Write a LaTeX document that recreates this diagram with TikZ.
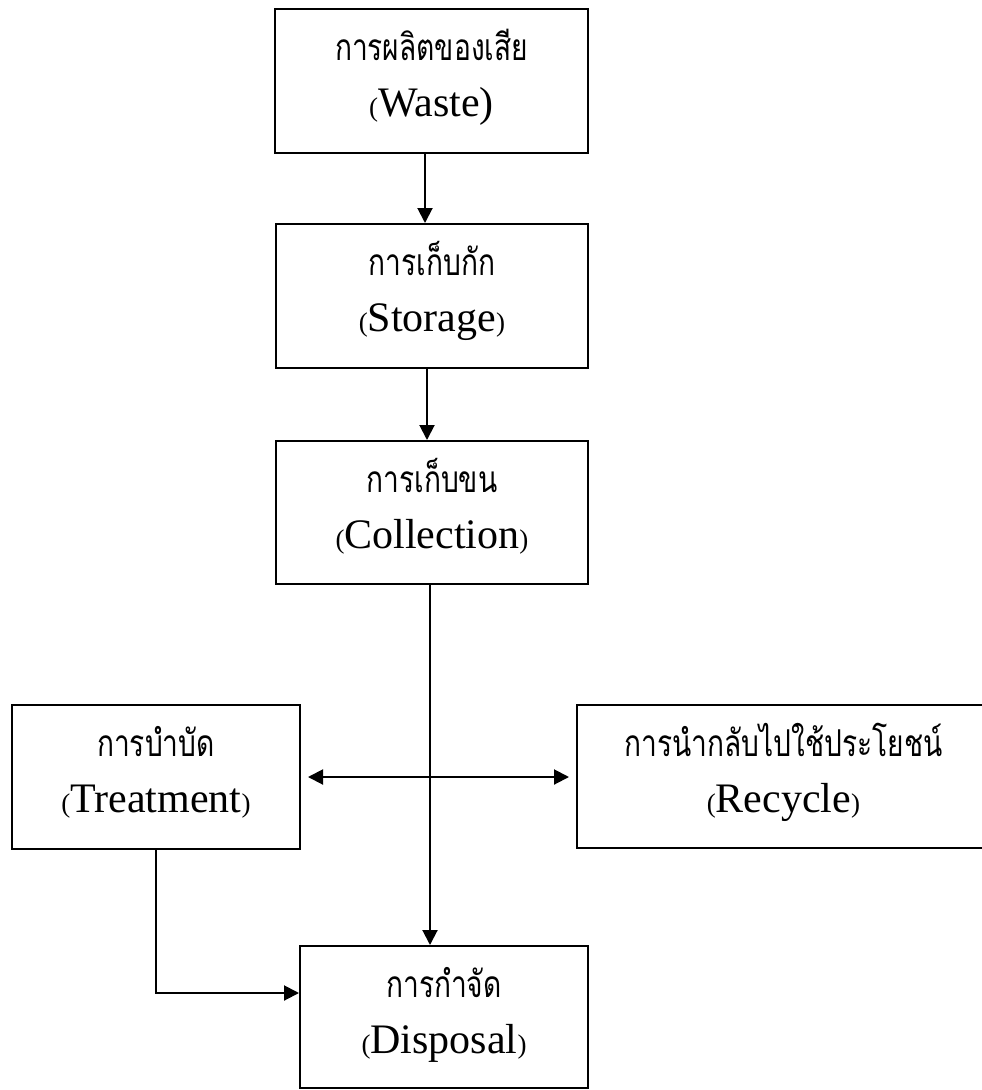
\documentclass[tikz,border=0pt]{standalone}
\usepackage{fontspec}
\setmainfont{Liberation Serif}
\newfontfamily\thaifont[Script=Thai, FakeStretch=0.76]{Loma}
\usetikzlibrary{arrows.meta}

% small parentheses used around the English names
\newcommand\lpar{{\fontsize{27pt}{27pt}\selectfont(}}
\newcommand\rpar{{\fontsize{27pt}{27pt}\selectfont)}}

% two text lines placed at fixed baselines inside a box
\newcommand\boxlabels[3]{%
  \node[thaitext, anchor=base] (#1-th) at ([yshift=-52pt]#1.north) {#2};
  \node[latintext, anchor=base] (#1-en) at ([yshift=-108pt]#1.north) {#3};}

\begin{document}
\begin{tikzpicture}[x=1pt, y=-1pt,
  stagebox/.style={draw, line width=2pt, inner sep=0pt, rectangle},
  thaitext/.style={inner sep=0pt, font=\thaifont\fontsize{37pt}{37pt}\selectfont},
  latintext/.style={inner sep=0pt, font=\fontsize{42pt}{42pt}\selectfont},
  flow/.style={line width=2pt, -{Triangle[length=15pt,width=15pt]}},
  flowboth/.style={line width=2pt, {Triangle[length=15pt,width=15pt]}-{Triangle[length=15pt,width=15pt]}}]

\useasboundingbox (0,0) rectangle (982,1090);
\clip (0,0) rectangle (982,1090);

% stage boxes
\node[stagebox, minimum width=313pt, minimum height=144pt] (waste)      at (431.5,81)   {};
\node[stagebox, minimum width=312pt, minimum height=144pt] (storage)    at (432,296)    {};
\node[stagebox, minimum width=312pt, minimum height=143pt] (collection) at (432,512.5)  {};
\node[stagebox, minimum width=288pt, minimum height=144pt] (treatment)  at (156,777)    {};
\node[stagebox, minimum width=413pt, minimum height=143pt] (recycle)    at (783.5,776.5){};
\node[stagebox, minimum width=288pt, minimum height=142pt] (disposal)   at (444,1017)   {};

% labels
\boxlabels{waste}{การผลิตของเสีย}{\lpar Waste)}
\boxlabels{storage}{การเก็บกัก}{\lpar Storage\rpar}
\boxlabels{collection}{การเก็บขน}{\lpar Collection\rpar}
\boxlabels{treatment}{การบำบัด}{\lpar Treatment\rpar}
\boxlabels{recycle}{การนำกลับไปใช้ประโยชน์}{\lpar Recycle\rpar}
\boxlabels{disposal}{การกำจัด}{\lpar Disposal\rpar}

% connectors
\draw[flow] ([xshift=-6.5pt]waste.south) -- ([xshift=-6.5pt]waste.south |- storage.north);
\draw[flow] ([xshift=-5pt]storage.south) -- ([xshift=-5pt]storage.south |- collection.north);
\draw[flow] ([xshift=-2pt]collection.south) -- ([xshift=-2pt]collection.south |- disposal.north);
\draw[flowboth] ([xshift=7pt]treatment.east) -- ([xshift=-7pt]recycle.west |- treatment.east);
\draw[flow] (treatment.south) |- ([yshift=24pt]disposal.west);
\end{tikzpicture}
\end{document}
